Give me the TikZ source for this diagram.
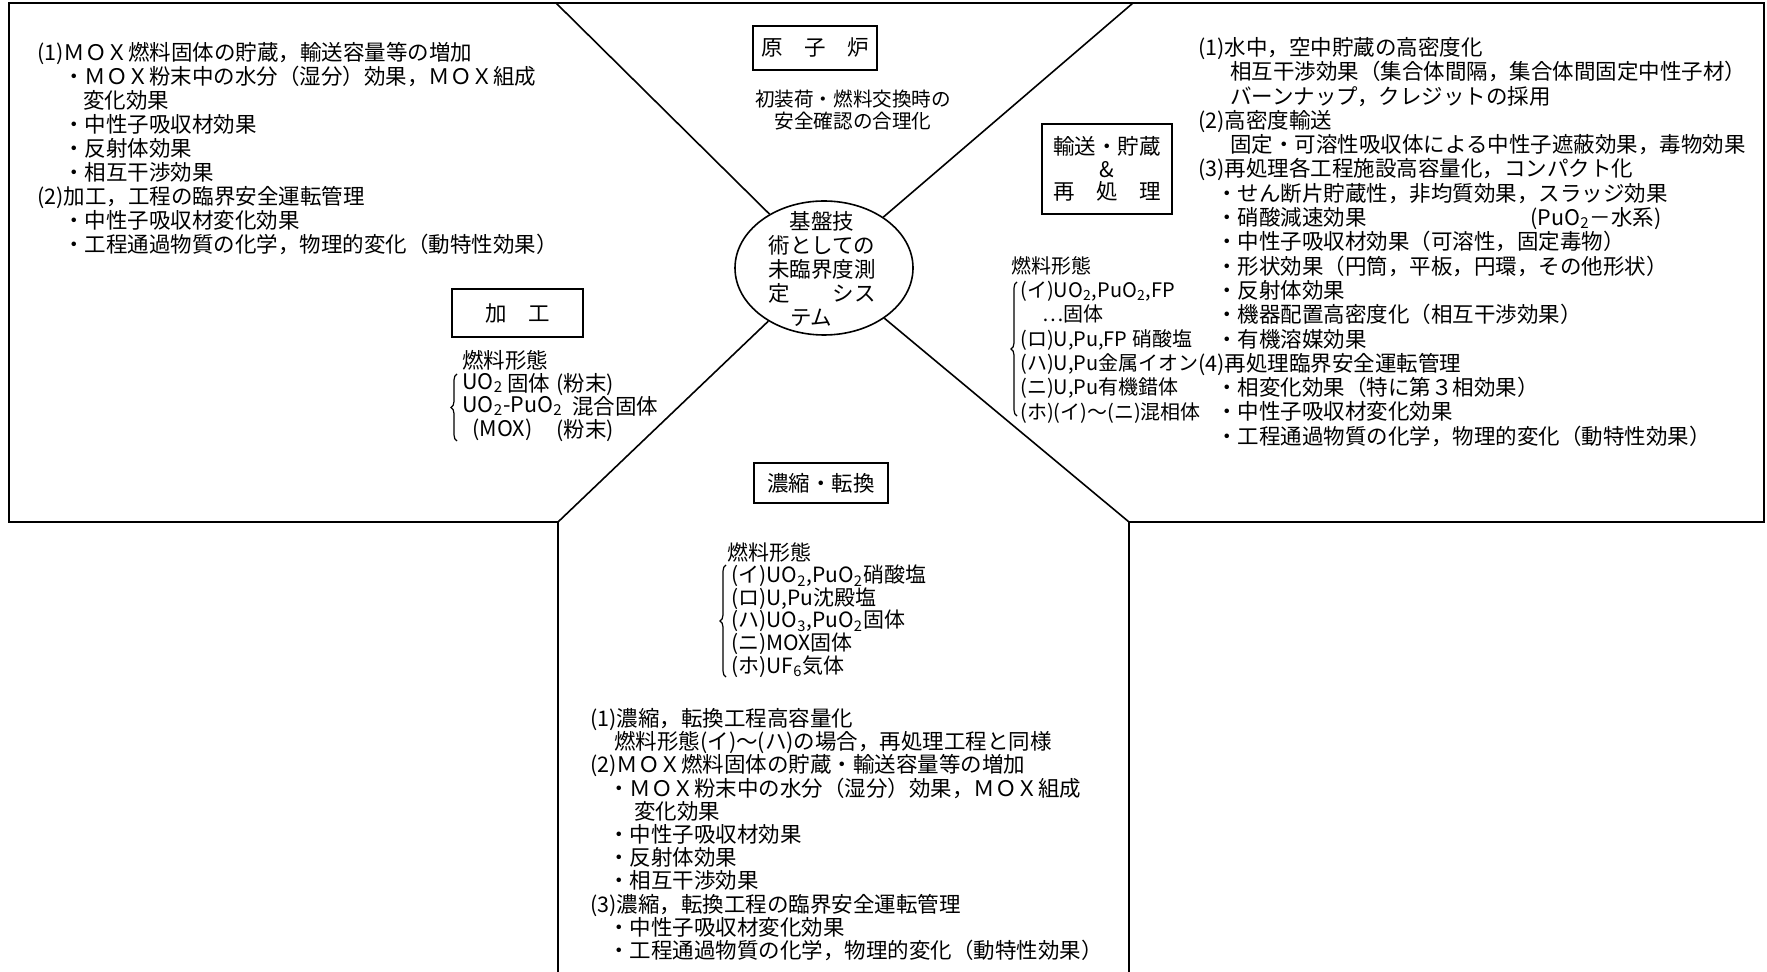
\documentclass[tikz,border=0pt]{standalone}
\usepackage{fontspec}
\newfontfamily\jp{Noto Sans CJK JP}
\usetikzlibrary{shapes.geometric,decorations.pathreplacing}
\newcommand\subx[1]{\textsubscript{#1}}
\newcommand\hsp[1]{\hspace*{#1pt}}
\begin{document}
\begin{tikzpicture}[x=0.5pt,y=-0.5pt,
  jtext/.style={font=\jp\fontsize{10.75}{12}\selectfont, inner sep=0pt, text=black},
  block/.style={jtext, align=left, anchor=north west},
  tag/.style={jtext, draw, line width=1pt, align=center},
  frameline/.style={line width=0.8pt},
  curly/.style={decorate, decoration={brace, amplitude=3pt}, line width=0.6pt}
]
\useasboundingbox (0,0) rectangle (1767,972);
\fill[white] (0,0) rectangle (1767,972);

% frame
\coordinate (ul) at (556,3);
\coordinate (ur) at (1133,3);
\coordinate (ll) at (558,522);
\coordinate (lr) at (1129,522);
\coordinate (lb) at (558,972);
\coordinate (rb) at (1129,972);
\draw[frameline] (lb) -- (ll) -- (9,522) -- (9,3) -- (1764,3) -- (1764,522) -- (lr) -- (rb);

% central ellipse
\node[ellipse, draw, line width=0.8pt, minimum width=89pt, minimum height=67pt, inner sep=0pt] (core) at (824,268) {};
\draw[frameline] (ul) -- (core);
\draw[frameline] (ur) -- (core);
\draw[frameline] (ll) -- (core);
\draw[frameline] (lr) -- (core);
\node[jtext, align=center] (coretxt) at (822,269) {基盤技\\術としての\\未臨界度測\\定　　シス\\テム\hspace*{1em}};

% labelled boxes
\node[tag, minimum width=62pt, minimum height=22pt] (genshiro) at (815,48) {原　子　炉};
\node[jtext, font=\jp\fontsize{9.8}{11}\selectfont, align=center] (genshirotxt) at (853,110) {初装荷・燃料交換時の\\安全確認の合理化};
\node[tag, minimum width=65pt, minimum height=45pt, font=\jp\fontsize{10.75}{11.3}\selectfont] (yuso) at (1107,169) {輸送・貯蔵\\\&\\再　処　理};
\node[tag, minimum width=65.5pt, minimum height=24pt] (kako) at (517.5,313) {加　工};
\node[tag, minimum width=67pt, minimum height=20pt] (noshuku) at (821,483) {濃縮・転換};

% left panel
\node[block] (ltxt) at (37,42) {(1)ＭＯＸ燃料固体の貯蔵，輸送容量等の増加\\
\hsp{13}・ＭＯＸ粉末中の水分（湿分）効果，ＭＯＸ組成\\
\hsp{23}変化効果\\
\hsp{13}・中性子吸収材効果\\
\hsp{13}・反射体効果\\
\hsp{13}・相互干渉効果\\
(2)加工，工程の臨界安全運転管理\\
\hsp{13}・中性子吸収材変化効果\\
\hsp{13}・工程通過物質の化学，物理的変化（動特性効果）};

% left fuel forms
\node[block] (lf0) at (462,350) {燃料形態};
\node[block] (lf1) at (462,373) {UO\subx{2}};
\node[block] (lf1a) at (507,373) {固体};
\node[block] (lf1b) at (556,373) {(粉末)};
\node[block] (lf2) at (462,396) {UO\subx{2}-PuO\subx{2}};
\node[block] (lf2b) at (572,396) {混合固体};
\node[block] (lf3) at (472,419) {(MOX)};
\node[block] (lf3b) at (556,419) {(粉末)};
\draw[curly] (457,441) -- (457,374);

% right panel
\node[block, font=\jp\fontsize{10.75}{12.15}\selectfont] (rtxt) at (1198,37) {(1)水中，空中貯蔵の高密度化\\
\hsp{16}相互干渉効果（集合体間隔，集合体間固定中性子材）\\
\hsp{16}バーンナップ，クレジットの採用\\
(2)高密度輸送\\
\hsp{16}固定・可溶性吸収体による中性子遮蔽効果，毒物効果\\
(3)再処理各工程施設高容量化，コンパクト化\\
\hsp{9}・せん断片貯蔵性，非均質効果，スラッジ効果\\
\hsp{9}・硝酸減速効果\\
\hsp{9}・中性子吸収材効果（可溶性，固定毒物）\\
\hsp{9}・形状効果（円筒，平板，円環，その他形状）\\
\hsp{9}・反射体効果\\
\hsp{9}・機器配置高密度化（相互干渉効果）\\
\hsp{9}・有機溶媒効果\\
(4)再処理臨界安全運転管理\\
\hsp{9}・相変化効果（特に第３相効果）\\
\hsp{9}・中性子吸収材変化効果\\
\hsp{9}・工程通過物質の化学，物理的変化（動特性効果）};
\node[block] (rpuo) at (1530,207) {(PuO\subx{2}－水系)};

% right fuel forms
\node[block, font=\jp\fontsize{10}{12.15}\selectfont] (rfuel) at (1011,256) {燃料形態\\
\hsp{4.5}(イ)UO\subx{2},PuO\subx{2},FP\\
\hsp{15.5}…固体\\
\hsp{4.5}(ロ)U,Pu,FP 硝酸塩\\
\hsp{4.5}(ハ)U,Pu金属イオン\\
\hsp{4.5}(ニ)U,Pu有機錯体\\
\hsp{4.5}(ホ)(イ)～(ニ)混相体};
\draw[curly] (1017,416) -- (1017,282);

% bottom centre fuel forms
\node[block, font=\jp\fontsize{10.5}{11.3}\selectfont] (cfuel) at (727,542) {燃料形態\\
\hsp{2}(イ)UO\subx{2},PuO\subx{2}硝酸塩\\
\hsp{2}(ロ)U,Pu沈殿塩\\
\hsp{2}(ハ)UO\subx{3},PuO\subx{2}固体\\
\hsp{2}(ニ)MOX固体\\
\hsp{2}(ホ)UF\subx{6}気体};
\draw[curly] (726,677) -- (726,565);

% bottom centre text
\node[block, font=\jp\fontsize{10.75}{11.6}\selectfont] (btxt) at (590,708) {(1)濃縮，転換工程高容量化\\
\hsp{12}燃料形態(イ)～(ハ)の場合，再処理工程と同様\\
(2)ＭＯＸ燃料固体の貯蔵・輸送容量等の増加\\
\hsp{9}・ＭＯＸ粉末中の水分（湿分）効果，ＭＯＸ組成\\
\hsp{22}変化効果\\
\hsp{9}・中性子吸収材効果\\
\hsp{9}・反射体効果\\
\hsp{9}・相互干渉効果\\
(3)濃縮，転換工程の臨界安全運転管理\\
\hsp{9}・中性子吸収材変化効果\\
\hsp{9}・工程通過物質の化学，物理的変化（動特性効果）};
\end{tikzpicture}
\end{document}
